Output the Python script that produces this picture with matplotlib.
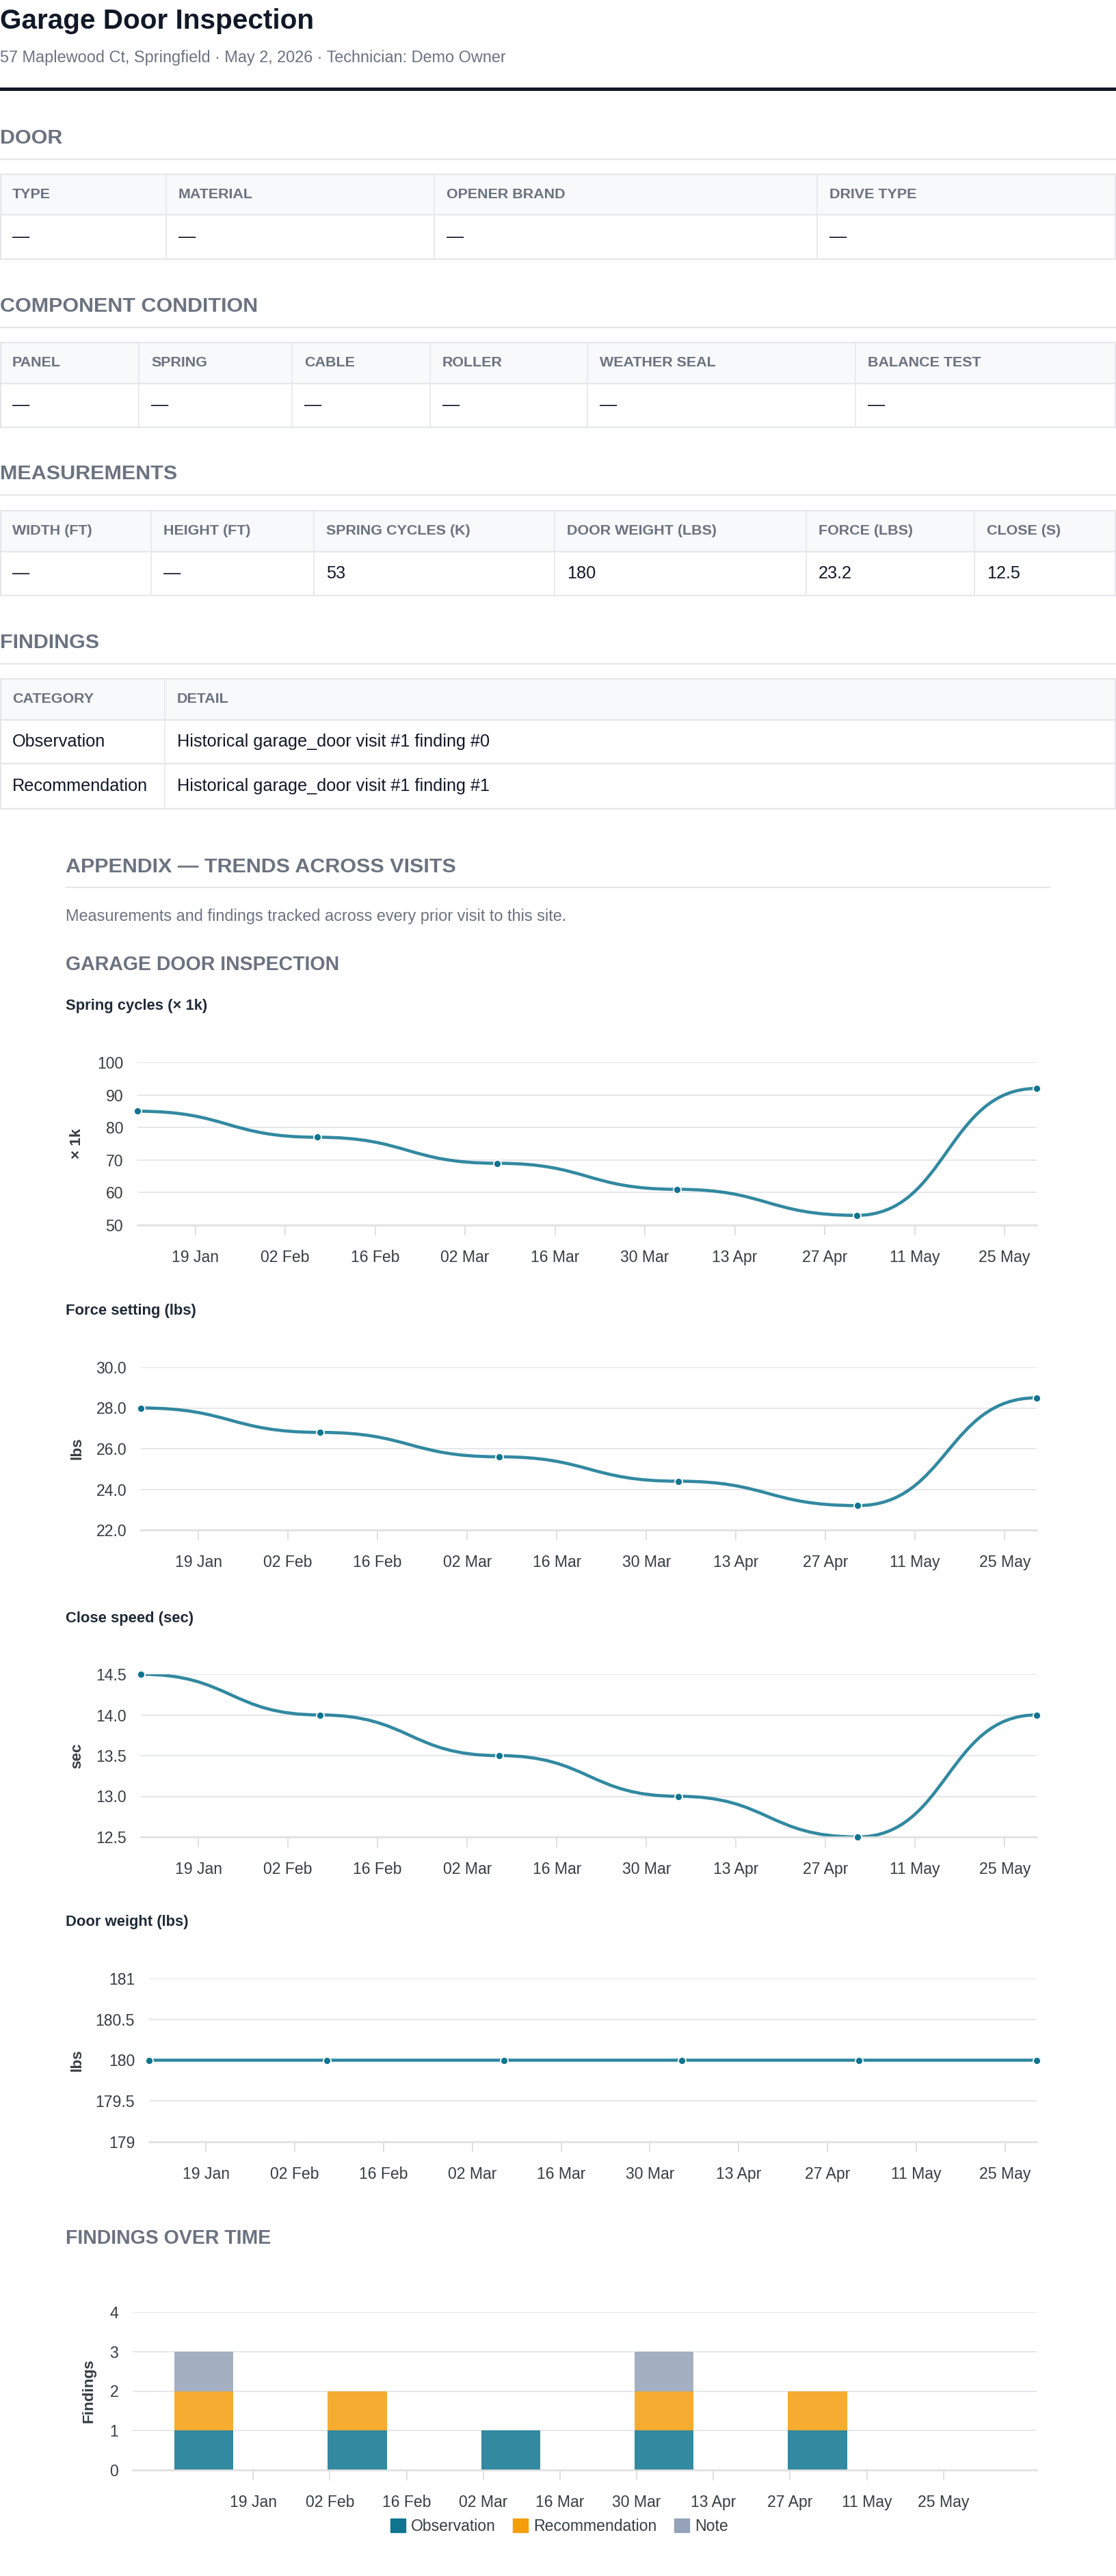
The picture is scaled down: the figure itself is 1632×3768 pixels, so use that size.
#!/usr/bin/env python3
"""
Garage door inspection report page with appendix trend charts.
"""

from datetime import datetime, timedelta
import matplotlib
matplotlib.use("Agg")
import matplotlib.pyplot as plt
import matplotlib.dates as mdates
from matplotlib.patches import Rectangle, Patch, PathPatch
from matplotlib.path import Path

plt.rcParams['font.family'] = ['Liberation Sans', 'DejaVu Sans']

W, H = 1632, 3768
PT = 0.72  # px -> pt at dpi 100

# ---------------- data ----------------
title = "Garage Door Inspection"
subtitle = "57 Maplewood Ct, Springfield · May 2, 2026 · Technician: Demo Owner"

door_cols = ['TYPE', 'MATERIAL', 'OPENER BRAND', 'DRIVE TYPE']
door_vals = ['—', '—', '—', '—']
comp_cols = ['PANEL', 'SPRING', 'CABLE', 'ROLLER', 'WEATHER SEAL', 'BALANCE TEST']
comp_vals = ['—', '—', '—', '—', '—', '—']
meas_cols = ['WIDTH (FT)', 'HEIGHT (FT)', 'SPRING CYCLES (K)', 'DOOR WEIGHT (LBS)', 'FORCE (LBS)', 'CLOSE (S)']
meas_vals = ['—', '—', '53', '180', '23.2', '12.5']
find_cols = ['CATEGORY', 'DETAIL']
find_rows = [['Observation', 'Historical garage_door visit #1 finding #0'],
             ['Recommendation', 'Historical garage_door visit #1 finding #1']]

visit_dates = ['2026-01-10', '2026-02-07', '2026-03-07', '2026-04-04', '2026-05-02', '2026-05-30']
spring_cycles = [85, 77, 69, 61, 53, 92]
force_lbs = [28.0, 26.8, 25.6, 24.4, 23.2, 28.5]
close_sec = [14.5, 14.0, 13.5, 13.0, 12.5, 14.0]
door_weight = [180, 180, 180, 180, 180, 180]

find_obs = [1, 1, 1, 1, 1, 0]
find_rec = [1, 1, 0, 1, 1, 0]
find_note = [1, 0, 0, 1, 0, 0]
find_labels = ['Observation', 'Recommendation', 'Note']

# ---------------- styles ----------------
DARK = '#111827'
GRAY = '#6b7280'
BORDER = '#e5e7eb'
HDR_BG = '#f8f9fb'
TICK = '#373d3f'
LINE = '#0e7490'
C_OBS, C_REC, C_NOTE = '#0e7490', '#f59e0b', '#94a3b8'

fig = plt.figure(figsize=(W / 100, H / 100), dpi=100)
bg = fig.add_axes([0, 0, 1, 1])
bg.set_xlim(0, W)
bg.set_ylim(H, 0)
bg.axis('off')

# ---------------- header ----------------
bg.text(0, 31, title, fontsize=40.5 * PT, fontweight='bold', color=DARK, va='center')
bg.text(0, 84, subtitle, fontsize=23.5 * PT, color=GRAY, va='center')
bg.add_patch(Rectangle((0, 128), W, 5, color=DARK, lw=0))


def section(y, text, x0=0, size=30.5):
    bg.text(x0, y, text, fontsize=size * PT, fontweight='bold', color=GRAY, va='center')


def rule(y, x0=0, x1=W):
    bg.plot([x0, x1], [y, y], color=BORDER, lw=2.2 * PT, solid_capstyle='butt')


def table(top, hdr_bot, row_bots, cols_x, header, rows):
    bg.add_patch(Rectangle((0, top), W, hdr_bot - top, color=HDR_BG, lw=0))
    bottom = row_bots[-1]
    for y in [top, hdr_bot] + row_bots:
        bg.plot([0, W], [y, y], color=BORDER, lw=2.2 * PT, solid_capstyle='butt')
    for x in cols_x:
        bg.plot([x, x], [top, bottom], color=BORDER, lw=1.6 * PT)
    bg.plot([W - 1, W - 1], [top, bottom], color=BORDER, lw=2.2 * PT)
    bg.plot([1, 1], [top, bottom], color=BORDER, lw=2.2 * PT)
    for x, h in zip(cols_x[:-1], header):
        bg.text(x + 18, (top + hdr_bot) / 2, h, fontsize=21.5 * PT, fontweight='bold',
                color=GRAY, va='center')
    prev = hdr_bot
    for yb, row in zip(row_bots, rows):
        for x, v in zip(cols_x[:-1], row):
            bg.text(x + 18, (prev + yb) / 2, v, fontsize=25.3 * PT, color=DARK, va='center')
        prev = yb


section(202, 'DOOR')
rule(233)
table(255, 314, [379], [0, 243, 635, 1195, W], door_cols, [door_vals])

section(448, 'COMPONENT CONDITION')
rule(479)
table(501, 561, [625], [0, 203, 427, 629, 859, 1251, W], comp_cols, [comp_vals])

section(693, 'MEASUREMENTS')
rule(724)
table(747, 807, [871], [0, 221, 459, 811, 1179, 1425, W], meas_cols, [meas_vals])

section(940, 'FINDINGS')
rule(971)
table(993, 1053, [1117, 1183], [0, 241, W], find_cols, find_rows)

# ---------------- appendix ----------------
section(1268, 'APPENDIX — TRENDS ACROSS VISITS', x0=96)
rule(1298, 96, 1536)
bg.text(96, 1340, 'Measurements and findings tracked across every prior visit to this site.',
        fontsize=23.5 * PT, color=GRAY, va='center')
section(1411, 'GARAGE DOOR INSPECTION', x0=96, size=28.5)

dates = [datetime.strptime(d, '%Y-%m-%d') for d in visit_dates]
xnum = mdates.date2num(dates)
tick_dates = [datetime(2026, 1, 19) + timedelta(days=14 * i) for i in range(10)]


def add_ax(left, top, right, bottom):
    return fig.add_axes([left / W, 1 - bottom / H, (right - left) / W, (bottom - top) / H])


def style_axes(ax):
    for s in ['top', 'right', 'left']:
        ax.spines[s].set_visible(False)
    ax.spines['bottom'].set_color('#e0e0e0')
    ax.spines['bottom'].set_linewidth(2.6 * PT)
    ax.yaxis.grid(True, color=BORDER, lw=2 * PT)
    ax.set_axisbelow(True)
    ax.set_xticks(mdates.date2num(tick_dates))
    ax.xaxis.set_major_formatter(mdates.DateFormatter('%d %b'))
    ax.tick_params(axis='x', length=11, width=2 * PT, color='#e0e0e0', pad=15,
                   labelsize=23 * PT, labelcolor=TICK)
    ax.tick_params(axis='y', length=0, pad=15, labelsize=23 * PT, labelcolor=TICK)


def smooth_path(x, y, k=0.5):
    verts = [(x[0], y[0])]
    codes = [Path.MOVETO]
    for i in range(len(x) - 1):
        dx = x[i + 1] - x[i]
        verts += [(x[i] + dx * k, y[i]), (x[i + 1] - dx * k, y[i + 1]), (x[i + 1], y[i + 1])]
        codes += [Path.CURVE4] * 3
    return Path(verts, codes)


title_txt = {'spring': 'Spring cycles (× 1k)', 'force': 'Force setting (lbs)',
             'close': 'Close speed (sec)', 'weight': 'Door weight (lbs)'}
ylabel_txt = {'spring': '× 1k', 'force': 'lbs', 'close': 'sec', 'weight': 'lbs'}


def line_chart(title_y, top, bottom, left, values, ylim, yticks, fmt, key):
    bg.text(96, title_y, title_txt[key], fontsize=22 * PT, fontweight='bold',
            color='#1f2937', va='center')
    ax = add_ax(left, top, 1516, bottom)
    style_axes(ax)
    ax.add_patch(PathPatch(smooth_path(xnum, values), fill=False, edgecolor=LINE,
                           alpha=0.85, lw=4.6 * PT, capstyle='round'))
    ax.plot(xnum, values, 'o', color=LINE, ms=11 * PT, mec='white', mew=1.8 * PT,
            clip_on=False, zorder=5)
    ax.set_xlim(xnum[0], xnum[-1])
    ax.set_ylim(*ylim)
    ax.set_yticks(yticks)
    ax.set_yticklabels([fmt % v for v in yticks])
    bg.text(113, (top + bottom) / 2, ylabel_txt[key], rotation=90, fontsize=22.5 * PT,
            fontweight='bold', color=TICK, va='center', ha='center')
    return ax


line_chart(1472, 1554, 1792, 201, spring_cycles, (50, 100), [50, 60, 70, 80, 90, 100], '%d', 'spring')
line_chart(1918, 2000, 2238, 206, force_lbs, (22, 30), [22, 24, 26, 28, 30], '%.1f', 'force')
line_chart(2367, 2449, 2687, 206, close_sec, (12.5, 14.5), [12.5, 13.0, 13.5, 14.0, 14.5], '%.1f', 'close')
line_chart(2812, 2894, 3133, 218, door_weight, (179, 181), [179, 179.5, 180, 180.5, 181], '%g', 'weight')

# ---------------- findings over time ----------------
section(3274, 'FINDINGS OVER TIME', x0=96, size=28.5)
ax = add_ax(194, 3382, 1516, 3613)
style_axes(ax)
bw = 10.8
ax.bar(xnum, find_obs, width=bw, color=C_OBS, alpha=0.85, lw=0)
ax.bar(xnum, find_rec, width=bw, bottom=find_obs, color=C_REC, alpha=0.85, lw=0)
base2 = [a + b for a, b in zip(find_obs, find_rec)]
ax.bar(xnum, find_note, width=bw, bottom=base2, color=C_NOTE, alpha=0.85, lw=0)
ax.set_xlim(xnum[0] - 13, xnum[-1] + 12)
ax.set_ylim(0, 4)
ax.set_yticks([0, 1, 2, 3, 4])
bg.text(130, 3497, 'Findings', rotation=90, fontsize=22.5 * PT, fontweight='bold',
        color=TICK, va='center', ha='center')
handles = [Patch(color=c) for c in (C_OBS, C_REC, C_NOTE)]
ax.legend(handles, find_labels, loc='center', bbox_to_anchor=(818 / W, 1 - 3695 / H),
          bbox_transform=fig.transFigure, ncol=3, frameon=False, fontsize=23 * PT,
          handlelength=0.95, handleheight=0.95, handletextpad=0.35, columnspacing=1.1,
          labelcolor=TICK)

fig.savefig('out.png', dpi=100)
